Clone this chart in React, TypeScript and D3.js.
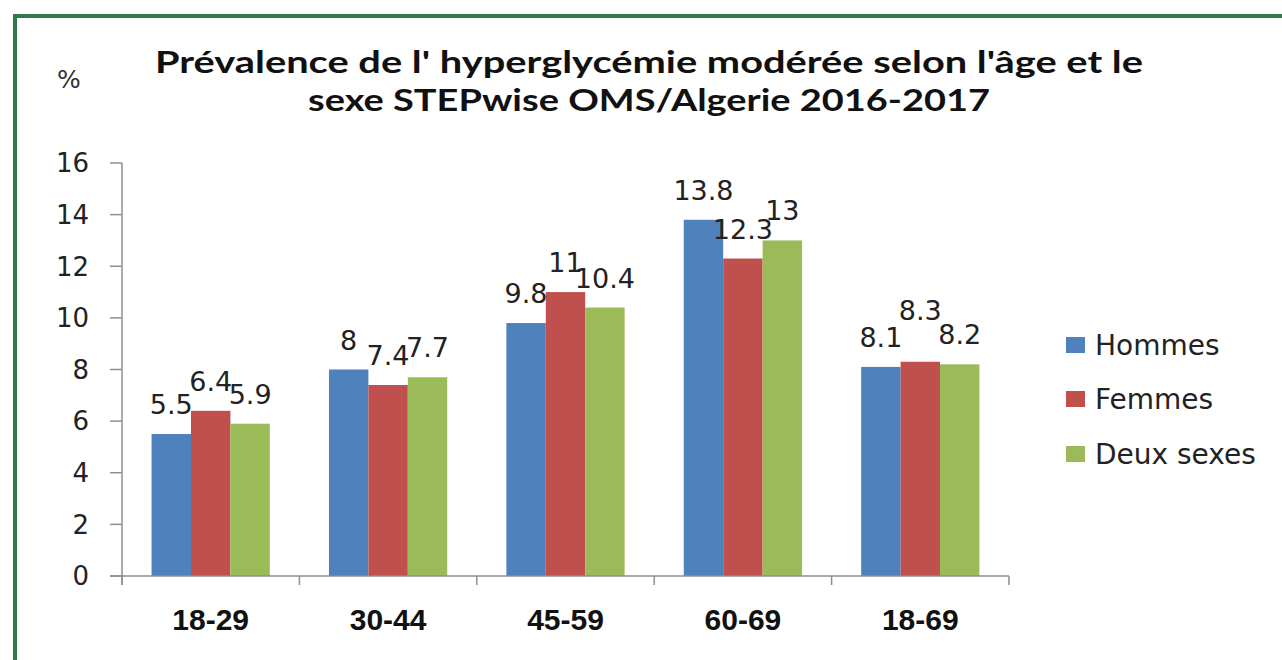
import React from "react";
import * as d3 from "d3";

const categories = ["18-29", "30-44", "45-59", "60-69", "18-69"];
const seriesNames = ["Hommes", "Femmes", "Deux sexes"];
const hommes = [5.5, 8, 9.8, 13.8, 8.1];
const femmes = [6.4, 7.4, 11, 12.3, 8.3];
const deuxSexes = [5.9, 7.7, 10.4, 13, 8.2];
const yTicks = [0, 2, 4, 6, 8, 10, 12, 14, 16];
const colors = ["#4f81bd", "#c0504d", "#9bbb59"];
const titleLines = [
  "Prévalence de l' hyperglycémie modérée selon l'âge et le",
  "sexe STEPwise OMS/Algerie 2016-2017",
];

export default function App() {
  const W = 1282;
  const H = 660;
  const seriesValues = [hommes, femmes, deuxSexes];
  const x0 = d3.scaleBand<string>().domain(categories).range([122, 1009]).paddingInner(0).paddingOuter(0);
  const x1 = d3
    .scaleBand<string>()
    .domain(seriesNames)
    .range([0, x0.bandwidth()])
    .paddingInner(0)
    .paddingOuter(0.75);
  const y = d3.scaleLinear().domain([0, 16]).range([576, 163]);
  const axisColor = "#8e8e8e";
  const numFont = "'DejaVu Sans', sans-serif";
  const labelSize = 27;

  // approximate label width for overlap handling
  const labelWidth = (v: number) =>
    String(v)
      .split("")
      .reduce((a, ch) => a + (ch === "." ? 0.318 : 0.636), 0) * labelSize;

  const labels = categories.map((c, i) => {
    const items = seriesNames.map((s, j) => {
      const v = seriesValues[j][i];
      return {
        s,
        v,
        cx: x0(c)! + x1(s)! + x1.bandwidth() / 2,
        by: y(v) - 20,
        w: labelWidth(v),
      };
    });
    const overlaps = (a: any, b: any) =>
      Math.abs(a.cx - b.cx) < (a.w + b.w) / 2 && Math.abs(a.by - b.by) < 12;
    const mid = items[1];
    if (overlaps(mid, items[0]) && overlaps(mid, items[2])) {
      mid.by -= 22;
    }
    return items;
  });

  return (
    <svg
      width={W}
      height={H}
      style={{ position: "absolute", left: 0, top: 0, background: "#fff" }}
    >
      <rect x={0} y={0} width={W} height={H} fill="#fff" />
      <rect x={15} y={16} width={W + 20} height={H + 20} fill="none" stroke="#2f7a4c" strokeWidth={4} />

      <text
        x={649}
        y={73}
        textAnchor="middle"
        fontFamily="Lato, 'Open Sans', sans-serif"
        fontWeight="bold"
        fontSize={31}
        fill="#111"
        textLength={988}
        lengthAdjust="spacingAndGlyphs"
      >
        {titleLines[0]}
      </text>
      <text
        x={649}
        y={111}
        textAnchor="middle"
        fontFamily="Lato, 'Open Sans', sans-serif"
        fontWeight="bold"
        fontSize={31}
        fill="#111"
        textLength={682}
        lengthAdjust="spacingAndGlyphs"
      >
        {titleLines[1]}
      </text>

      <text x={57} y={88} fontFamily={numFont} fontSize={25} fill="#333">
        %
      </text>

      <line x1={122} x2={122} y1={y(16)} y2={585} stroke={axisColor} strokeWidth={1.5} />
      {yTicks.map((t) => (
        <g key={t}>
          <line x1={110} x2={122} y1={y(t)} y2={y(t)} stroke={axisColor} strokeWidth={1.5} />
          <text
            x={89}
            y={y(t)}
            dy="0.36em"
            textAnchor="end"
            fontFamily={numFont}
            fontSize={26}
            fill="#222"
          >
            {t}
          </text>
        </g>
      ))}

      {categories.map((c, i) => (
        <g key={c} transform={`translate(${x0(c)},0)`}>
          {seriesNames.map((s, j) => {
            const v = seriesValues[j][i];
            return (
              <rect
                key={s}
                x={x1(s)!}
                y={y(v)}
                width={x1.bandwidth()}
                height={y(0) - y(v)}
                fill={colors[j]}
              />
            );
          })}
        </g>
      ))}
      {labels.flat().map((l, k) => (
        <text
          key={k}
          x={l.cx}
          y={l.by}
          textAnchor="middle"
          fontFamily={numFont}
          fontSize={labelSize}
          fill="#222"
        >
          {l.v}
        </text>
      ))}

      <line x1={110} x2={1009} y1={576} y2={576} stroke={axisColor} strokeWidth={1.5} />
      {[...categories.map((c) => x0(c)!), 1009].map((xx, k) => (
        <line key={k} x1={xx} x2={xx} y1={576} y2={585} stroke={axisColor} strokeWidth={1.5} />
      ))}
      {categories.map((c) => (
        <text
          key={c}
          x={x0(c)! + x0.bandwidth() / 2}
          y={630}
          textAnchor="middle"
          fontFamily="'Liberation Sans', Arial, sans-serif"
          fontWeight="bold"
          fontSize={30}
          fill="#111"
        >
          {c}
        </text>
      ))}

      {seriesNames.map((s, j) => {
        const cy = [345, 399, 454][j];
        return (
          <g key={s}>
            <rect x={1066} y={cy - 8} width={19} height={16} fill={colors[j]} />
            <text
              x={1095}
              y={cy}
              dy="0.36em"
              fontFamily={numFont}
              fontSize={28}
              fill="#222"
            >
              {s}
            </text>
          </g>
        );
      })}
    </svg>
  );
}
